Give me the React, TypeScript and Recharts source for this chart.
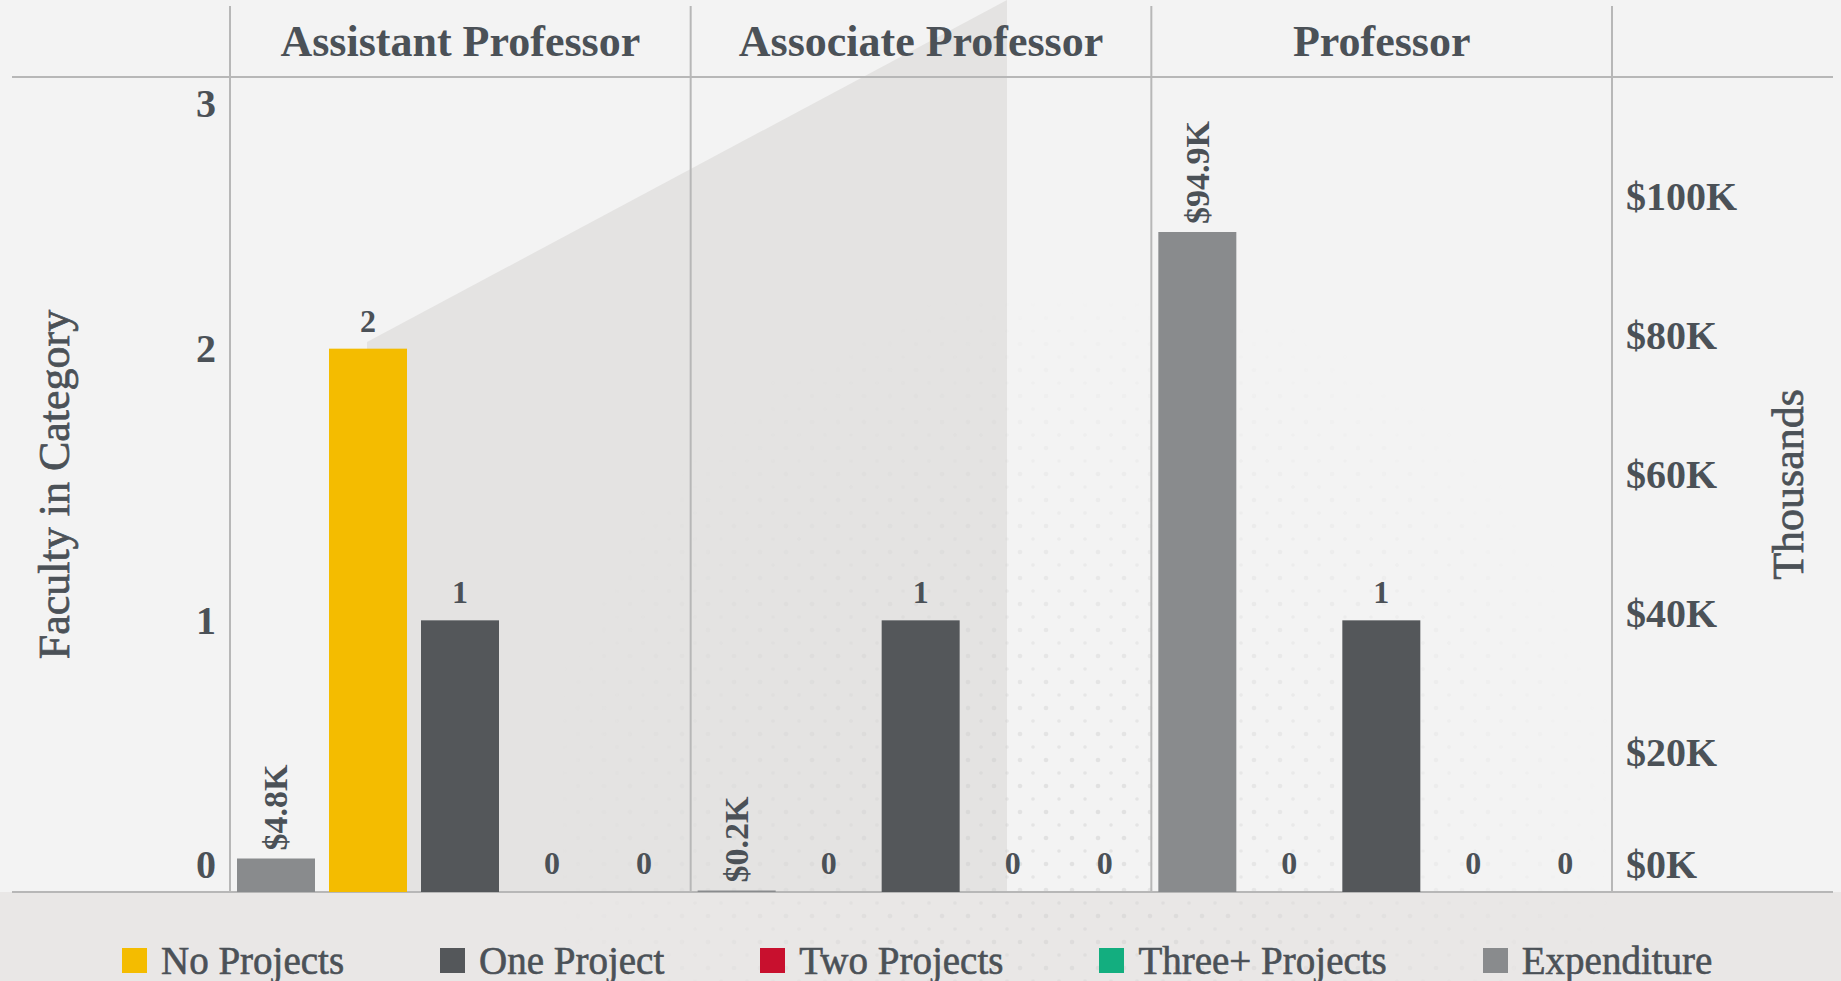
import React from 'react';
import { BarChart, Bar, XAxis, YAxis, LabelList, Legend } from 'recharts';

// chart data
const ranks = ['Assistant Professor', 'Associate Professor', 'Professor'];
const expenditure = [4800, 200, 94900];
const noProjects = [2, 0, 0];
const oneProject = [1, 1, 1];
const twoProjects = [0, 0, 0];
const threePlusProjects = [0, 0, 0];

const countTicks = [0, 1, 2, 3];
const dollarTicks = [0, 20000, 40000, 60000, 80000, 100000];

const data = ranks.map((rank, i) => ({
    rank,
    expenditure: expenditure[i],
    none: noProjects[i],
    one: oneProject[i],
    two: twoProjects[i],
    three: threePlusProjects[i],
}));

const legendItems = [
    { name: 'No Projects', color: '#F4BC00' },
    { name: 'One Project', color: '#54575A' },
    { name: 'Two Projects', color: '#C8102E' },
    { name: 'Three+ Projects', color: '#13AE7F' },
    { name: 'Expenditure', color: '#898B8D' },
];

const W = 1841;
const H = 981;
const PLOT_LEFT = 230;
const PLOT_RIGHT = 1612;
const PLOT_TOP = 77;
const PLOT_BOTTOM = 892;
const FONT = '"Liberation Serif", "Times New Roman", serif';
const INK = '#4b5157';
const RULE = '#b7b7b7';

const fmtK = (v: number) => `$${(v / 1000).toFixed(1)}K`;
const fmtTick = (v: number) => `$${Math.round(v / 1000)}K`;

const HeaderTick = ({ x, payload }: any) => (
    <text x={x} y={56} textAnchor="middle" fill={INK} fontFamily={FONT} fontSize={44} fontWeight={700}>
        {payload.value}
    </text>
);

const CountTick = ({ x, y, payload }: any) => {
    const v = payload.value;
    // keep the end labels inside the plot like the original
    const dy = v === countTicks[countTicks.length - 1] ? 26 : v === 0 ? -28 : 0;
    return (
        <text x={x} y={y + dy} textAnchor="end" dominantBaseline="central" fill={INK}
              fontFamily={FONT} fontSize={40} fontWeight={700}>
            {v}
        </text>
    );
};

const DollarTick = ({ x, y, payload }: any) => {
    const v = payload.value;
    const dy = v === 0 ? -28 : 0;
    return (
        <text x={x} y={y + dy} textAnchor="start" dominantBaseline="central" fill={INK}
              fontFamily={FONT} fontSize={40} fontWeight={700}>
            {fmtTick(v)}
        </text>
    );
};

const ExpLabel = (props: any) => {
    const vb = props.viewBox ?? props;
    const cx = vb.x + vb.width / 2;
    const ty = vb.y - 8;
    return (
        <text x={cx} y={ty} transform={`rotate(-90, ${cx}, ${ty})`} textAnchor="start"
              dominantBaseline="central" fill={INK} fontFamily={FONT} fontSize={34} fontWeight={700}>
            {fmtK(Number(props.value))}
        </text>
    );
};

const AxisTitle = (dx: number, text: string) => (props: any) => {
    const vb = props.viewBox;
    const cx = vb.x + dx;
    const cy = vb.y + vb.height / 2;
    return (
        <text x={cx} y={cy} transform={`rotate(-90, ${cx}, ${cy})`} textAnchor="middle"
              dominantBaseline="central" fill={INK} stroke={INK} strokeWidth={0.7}
              fontFamily={FONT} fontSize={44}>
            {text}
        </text>
    );
};

// zero-count bars keep a 1px slot (so their "0" label is drawn) but paint nothing
const CountBar = (props: any) => {
    const { x, y, width, height, fill, value } = props;
    const v = Array.isArray(value) ? value[1] - value[0] : value;
    if (!v) return <g />;
    return <rect x={x} y={y} width={width} height={height} fill={fill} />;
};

const renderLegend = () => (
    <div style={{ display: 'flex', alignItems: 'center', paddingLeft: 122, fontFamily: FONT, fontSize: 39,
        lineHeight: '45px', color: INK, WebkitTextStroke: `0.6px ${INK}` }}>
        {legendItems.map((item) => (
            <div key={item.name} style={{ display: 'flex', alignItems: 'center', marginRight: 96 }}>
                <span style={{ display: 'inline-block', width: 25, height: 25, background: item.color, marginRight: 14 }} />
                <span>{item.name}</span>
            </div>
        ))}
    </div>
);

// background decoration: shaded wedge, halftone dots, frame rules
const Backdrop = () => {
    const colW = (PLOT_RIGHT - PLOT_LEFT) / ranks.length;
    const seps = ranks.map((_, i) => PLOT_LEFT + i * colW).concat(PLOT_RIGHT);
    return (
        <svg width={W} height={H} style={{ position: 'absolute', left: 0, top: 0 }}>
            <defs>
                <pattern id="dots" width="26" height="26" patternUnits="userSpaceOnUse">
                    <circle cx="6" cy="6" r="2.3" fill="#c4c4c4" />
                    <circle cx="19" cy="19" r="1.8" fill="#cacaca" />
                </pattern>
                <radialGradient id="fade" cx="1080" cy="820" r="540" gradientUnits="userSpaceOnUse">
                    <stop offset="0" stopColor="#fff" stopOpacity="0.4" />
                    <stop offset="1" stopColor="#fff" stopOpacity="0" />
                </radialGradient>
                <mask id="dotMask">
                    <rect width={W} height={H} fill="url(#fade)" />
                </mask>
            </defs>
            <rect width={W} height={H} fill="#f3f3f3" />
            <rect x={0} y={PLOT_BOTTOM} width={W} height={H - PLOT_BOTTOM} fill="#e9e7e6" />
            <polygon points={`367,342 1007,0 1007,${PLOT_BOTTOM} 367,${PLOT_BOTTOM}`} fill="#e4e3e2" />
            <rect width={W} height={H} fill="url(#dots)" mask="url(#dotMask)" />
            <line x1={12} x2={1833} y1={PLOT_TOP} y2={PLOT_TOP} stroke={RULE} strokeWidth={2} />
            <line x1={12} x2={1833} y1={PLOT_BOTTOM} y2={PLOT_BOTTOM} stroke={RULE} strokeWidth={2} />
            {seps.map((x) => (
                <line key={x} x1={x} x2={x} y1={6} y2={PLOT_BOTTOM} stroke={RULE} strokeWidth={2} />
            ))}
        </svg>
    );
};

const countLabelStyle = { fill: INK, fontFamily: FONT, fontSize: 32, fontWeight: 700 };

const countSeries = [
    { key: 'none', name: 'No Projects', color: '#F4BC00' },
    { key: 'one', name: 'One Project', color: '#54575A' },
    { key: 'two', name: 'Two Projects', color: '#C8102E' },
    { key: 'three', name: 'Three+ Projects', color: '#13AE7F' },
];

export default function App() {
    return (
        <div style={{ position: 'absolute', left: 0, top: 0, width: W, height: H }}>
            <Backdrop />
            <div style={{ position: 'absolute', left: 0, top: 0 }}>
                <BarChart width={W} height={H} data={data}
                          margin={{ top: 0, right: 0, bottom: H - PLOT_BOTTOM, left: 0 }}
                          barCategoryGap={7} barGap={14}>
                    <XAxis dataKey="rank" orientation="top" height={PLOT_TOP} axisLine={false} tickLine={false}
                           tick={<HeaderTick />} interval={0} />
                    <YAxis yAxisId="count" domain={[0, 3]} ticks={countTicks} width={PLOT_LEFT}
                           axisLine={false} tickLine={false} tickMargin={8} tick={<CountTick />}
                           label={{ content: AxisTitle(54, 'Faculty in Category') }} />
                    <YAxis yAxisId="exp" orientation="right" domain={[0, 117200]} ticks={dollarTicks}
                           width={W - PLOT_RIGHT} axisLine={false} tickLine={false} tickMargin={8}
                           tick={<DollarTick />} label={{ content: AxisTitle(176, 'Thousands') }} />
                    <Legend layout="horizontal" verticalAlign="middle" align="center"
                            wrapperStyle={{ top: 938, left: 0, width: W }} content={renderLegend} />
                    <Bar yAxisId="exp" dataKey="expenditure" name="Expenditure" fill="#898B8D" isAnimationActive={false}>
                        <LabelList dataKey="expenditure" content={<ExpLabel />} />
                    </Bar>
                    {countSeries.map((s) => (
                        <Bar key={s.key} yAxisId="count" dataKey={s.key} name={s.name} fill={s.color}
                             minPointSize={1} shape={<CountBar />} isAnimationActive={false}>
                            <LabelList dataKey={s.key} position="top" offset={17} style={countLabelStyle} />
                        </Bar>
                    ))}
                </BarChart>
            </div>
        </div>
    );
}
